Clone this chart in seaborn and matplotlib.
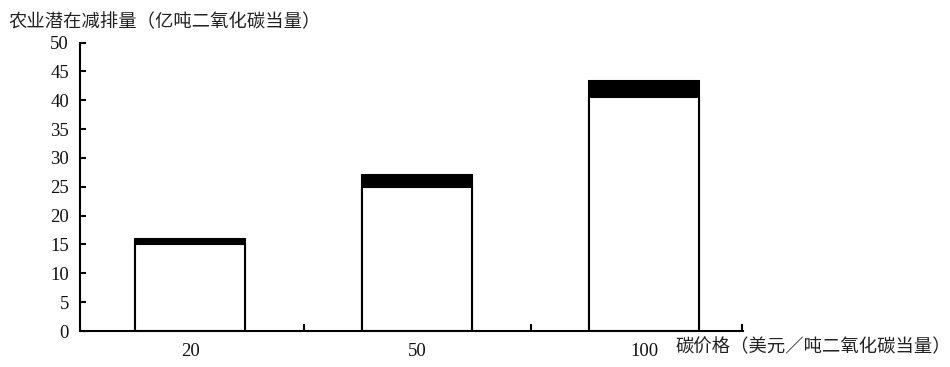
import matplotlib
matplotlib.use("Agg")
import matplotlib.pyplot as plt
import seaborn as sns
import pandas as pd

prices = ["20", "50", "100"]
base_values = [15, 25, 40.6]
top_values = [16, 27, 43.3]
y_ticks = [0, 5, 10, 15, 20, 25, 30, 35, 40, 45, 50]
y_label = "农业潜在减排量（亿吨二氧化碳当量）"
x_label = "碳价格（美元／吨二氧化碳当量）"

sns.set_theme(style="white")
plt.rcParams['font.family'] = ['Liberation Serif', 'Noto Sans CJK SC', 'DejaVu Sans']

df = pd.DataFrame({"price": prices, "base": base_values, "total": top_values})

fig = plt.figure(figsize=(9.5, 3.67), dpi=100)
ax = fig.add_axes([80/950, 1-331/367, (743-80)/950, (331-42.5)/367])

sns.barplot(data=df, x="price", y="total", color="black", width=0.485,
            edgecolor="black", linewidth=1.5, saturation=1, ax=ax)
sns.barplot(data=df, x="price", y="base", color="white", width=0.485,
            edgecolor="black", linewidth=1.5, saturation=1, ax=ax)
for p in ax.patches[:3]:
    p.set_zorder(1)

ax.set_xlim(-0.485, 2.436)
ax.set_ylim(0, 50)
ax.set_yticks(y_ticks)
ax.set_yticklabels([str(v) for v in y_ticks], fontsize=13.5, color="#111",
                   family=['Liberation Serif'])
ax.set_xticks([0, 1, 2])
ax.set_xticklabels(prices, fontsize=13.5, color="#111", family=['Liberation Serif'])
ax.set_xticks([0.5, 1.5, 2.43], minor=True)
ax.tick_params(axis="x", which="major", length=0, pad=9)
ax.tick_params(axis="x", which="minor", direction="in", length=5, width=1.5, color="black", bottom=True)
ax.tick_params(axis="y", which="major", direction="in", length=4, width=1.5, color="black", pad=8, left=True)

for s in ["top", "right"]:
    ax.spines[s].set_visible(False)
for s in ["left", "bottom"]:
    ax.spines[s].set_color("black")
    ax.spines[s].set_linewidth(1.5)
ax.set_xlabel("")
ax.set_ylabel("")

fig.text(8/950, 1-22/367, y_label, fontsize=13.2, color="#222",
         family=['Noto Sans CJK SC'], ha="left", va="center")
fig.text(675/950, 1-347/367, x_label, fontsize=13.2, color="#222",
         family=['Noto Sans CJK SC'], ha="left", va="center")

fig.savefig("out.png", dpi=100)
